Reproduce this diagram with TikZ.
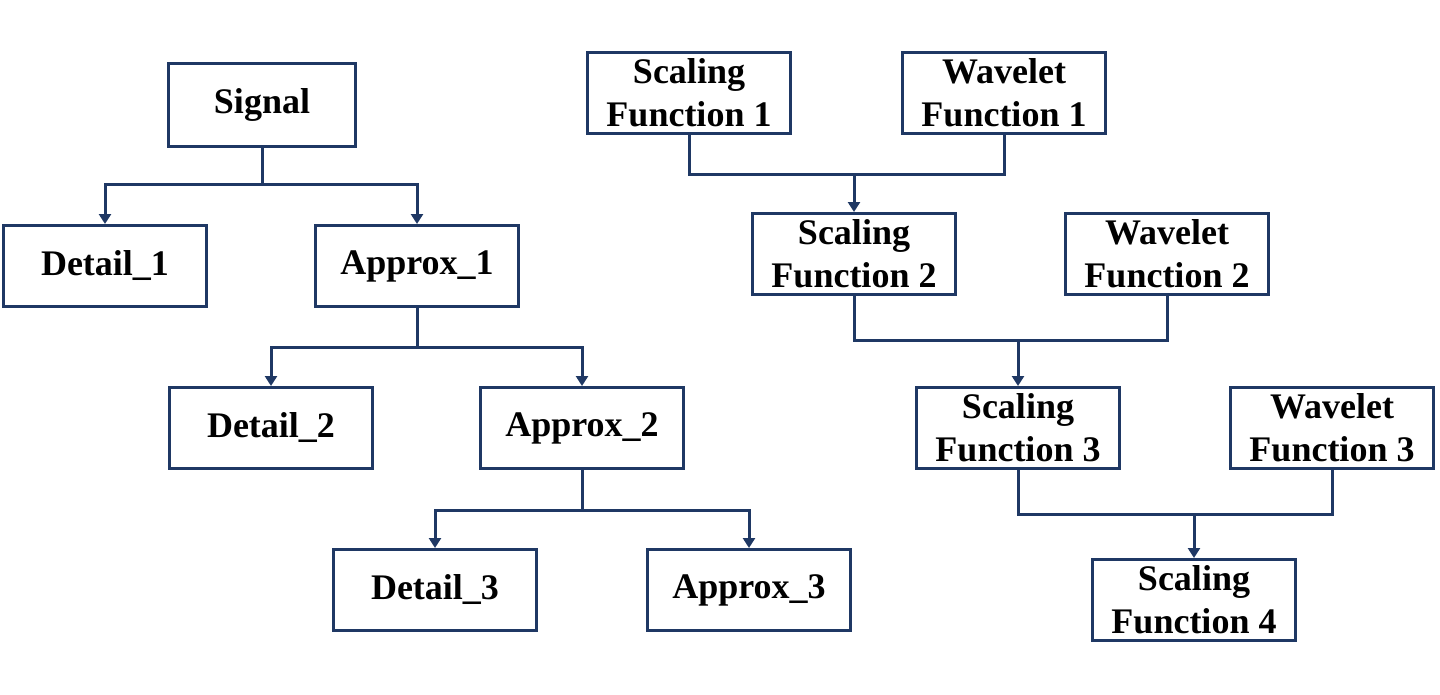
\documentclass[tikz,border=0pt]{standalone}
\usepackage{fontspec}
\setmainfont{Liberation Serif}
\usetikzlibrary{arrows.meta}
\definecolor{navy}{HTML}{1F3864}
\begin{document}
\begin{tikzpicture}[x=0.75pt,y=-0.75pt,
  box/.style={draw=navy, line width=2.25pt, minimum width=152pt, minimum height=60.75pt,
    inner sep=0pt, align=center, fill=white,
    font=\fontsize{27}{32}\selectfont\bfseries},
  conn/.style={draw=navy, line width=2.25pt},
  arr/.style={conn, -{Triangle[width=9pt,length=7.5pt]}}]
\useasboundingbox (0,0) rectangle (1440,694);
% left tree
\node[box, minimum width=140pt, minimum height=62pt] (sig) at (262,105) {Signal};
\node[box] (d1) at (105,266) {Detail\_1};
\node[box] (a1) at (417,266) {Approx\_1};
\node[box] (d2) at (271,428) {Detail\_2};
\node[box] (a2) at (582,428) {Approx\_2};
\node[box] (d3) at (435,590) {Detail\_3};
\node[box] (a3) at (749,590) {Approx\_3};
\draw[arr] (sig.south) -- ++(0,37) -| (d1.north);
\draw[arr] (sig.south) -- ++(0,37) -| (a1.north);
\draw[arr] (a1.south) -- ++(0,39) -| (d2.north);
\draw[arr] (a1.south) -- ++(0,39) -| (a2.north);
\draw[arr] (a2.south) -- ++(0,40) -| (d3.north);
\draw[arr] (a2.south) -- ++(0,40) -| (a3.north);
% right tree
\node[box] (sf1) at (689,93) {Scaling\\Function 1};
\node[box] (wf1) at (1004,93) {Wavelet\\Function 1};
\node[box] (sf2) at (854,254) {Scaling\\Function 2};
\node[box] (wf2) at (1167,254) {Wavelet\\Function 2};
\node[box] (sf3) at (1018,428) {Scaling\\Function 3};
\node[box] (wf3) at (1332,428) {Wavelet\\Function 3};
\node[box] (sf4) at (1194,600) {Scaling\\Function 4};
\draw[conn] (sf1.south) -- ++(0,39) coordinate (k1) -| (wf1.south);
\draw[arr] (k1 -| sf2.north) -- (sf2.north);
\draw[conn] (sf2.south) -- ++(0,44) coordinate (k2) -| (wf2.south);
\draw[arr] (k2 -| sf3.north) -- (sf3.north);
\draw[conn] (sf3.south) -- ++(0,44) coordinate (k3) -| (wf3.south);
\draw[arr] (k3 -| sf4.north) -- (sf4.north);
\end{tikzpicture}
\end{document}
